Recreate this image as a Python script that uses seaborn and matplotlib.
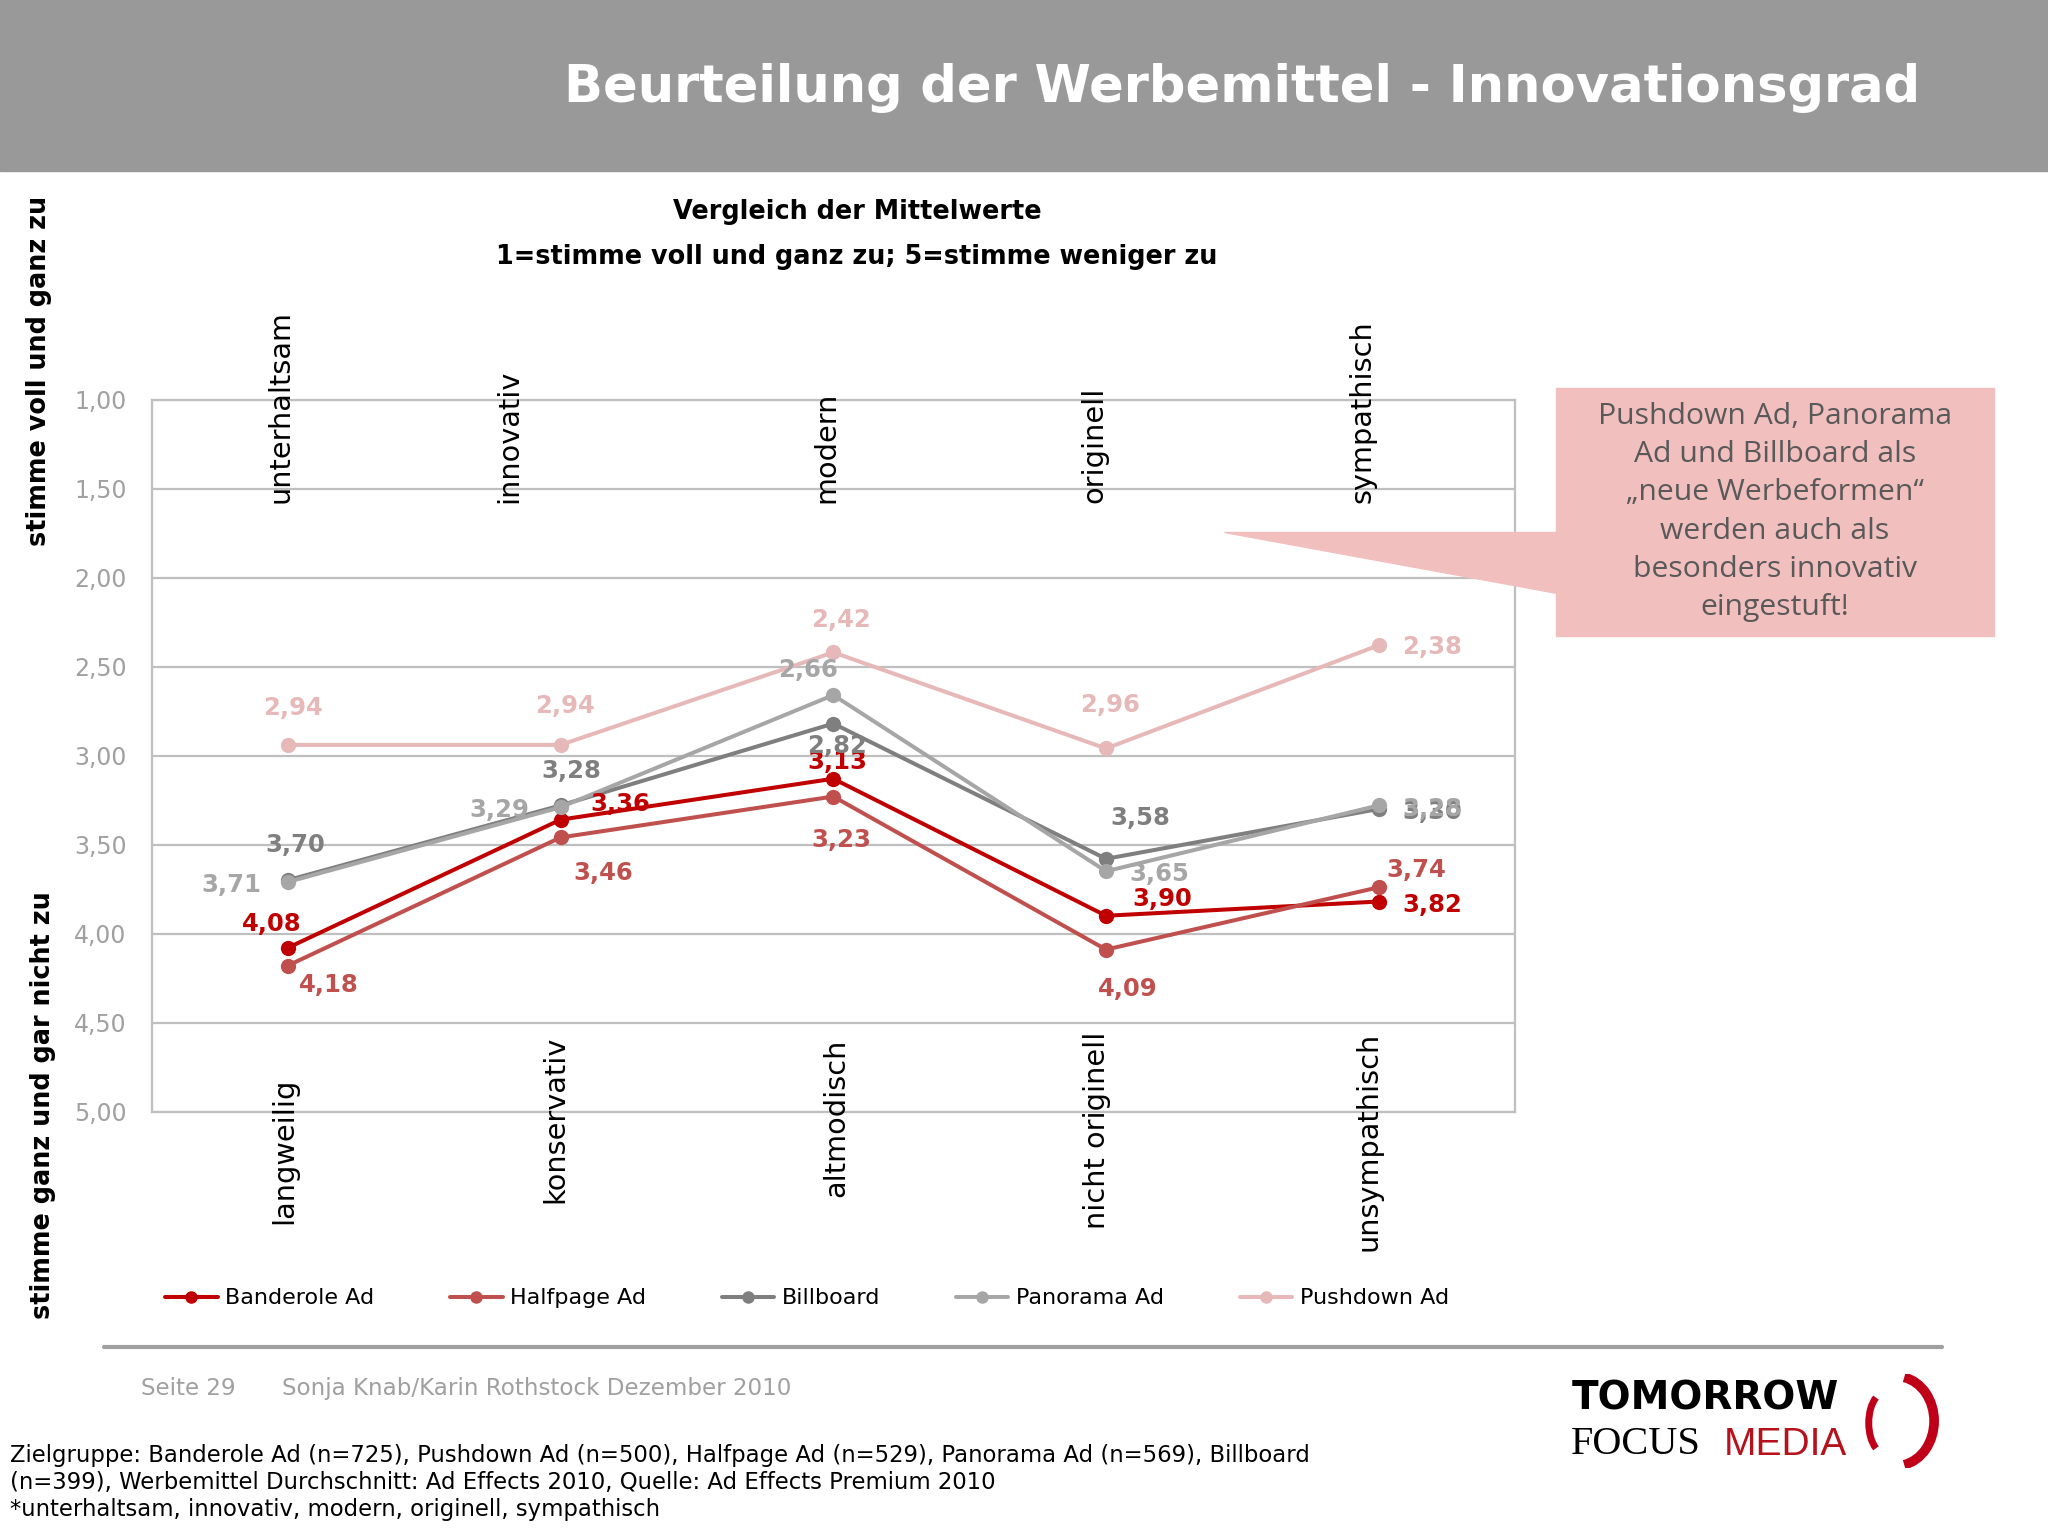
import matplotlib
matplotlib.use('Agg')
import matplotlib.pyplot as plt
import seaborn as sns
import pandas as pd
from matplotlib.patches import Rectangle, Polygon, Arc
from matplotlib.lines import Line2D
from matplotlib.ticker import FuncFormatter

#----------------- Daten ----------------------------------------
kategorien_oben = ['unterhaltsam', 'innovativ', 'modern', 'originell', 'sympathisch']
kategorien_unten = ['langweilig', 'konservativ', 'altmodisch', 'nicht originell', 'unsympathisch']
werbemittel = ['Banderole Ad', 'Halfpage Ad', 'Billboard', 'Panorama Ad', 'Pushdown Ad']
banderole = [4.08, 3.36, 3.13, 3.90, 3.82]
halfpage = [4.18, 3.46, 3.23, 4.09, 3.74]
billboard = [3.70, 3.28, 2.82, 3.58, 3.30]
panorama = [3.71, 3.29, 2.66, 3.65, 3.28]
pushdown = [2.94, 2.94, 2.42, 2.96, 2.38]
y_ticks = [1.0, 1.5, 2.0, 2.5, 3.0, 3.5, 4.0, 4.5, 5.0]

farben = ['#C00000', '#C0504D', '#7F7F7F', '#A6A6A6', '#E6B9B8']

werte = [banderole, halfpage, billboard, panorama, pushdown]
df = pd.DataFrame({
    'pos': [i for _ in werbemittel for i in range(len(kategorien_oben))],
    'wert': [v for serie in werte for v in serie],
    'Werbemittel': [w for w in werbemittel for _ in kategorien_oben],
})

# Versatz der Wertebeschriftungen (Punkte)
versatz = [
    [(-12, 18), (46, 12), (3, 13), (43, 13), (41, -3)],
    [(31, -15), (33, -27), (6, -33), (17, -30), (29, 13)],
    [(6, 27), (8, 26), (3, -17), (26, 31), (41, -2)],
    [(-43, -2), (-47, -2), (-19, 19), (41, -2), (41, -3)],
    [(4, 28), (3, 30), (6, 25), (3, 33), (41, -1)],
]

#----------------- Stil ----------------------------------------
sns.set_style('white')
plt.rcParams['font.family'] = ['DejaVu Sans']
plt.rcParams['text.color'] = 'black'

W, H = 1568, 1176
def fx(x):
    return x / W
def fy(y):
    return 1 - y / H

fig = plt.figure(figsize=(20.48, 15.36), dpi=100)

# Kopfzeile
fig.patches.append(Rectangle((0, fy(131)), 1, 131 / H, transform=fig.transFigure,
                             color='#999999', zorder=0))
fig.text(fx(1470), fy(67), 'Beurteilung der Werbemittel - Innovationsgrad', color='white',
         fontsize=36.8, fontweight='bold', ha='right', va='center')

# Untertitel
fig.text(fx(656), fy(162), 'Vergleich der Mittelwerte', fontsize=18.4, fontweight='bold',
         ha='center', va='center')
fig.text(fx(656), fy(197), '1=stimme voll und ganz zu; 5=stimme weniger zu', fontsize=18.4,
         fontweight='bold', ha='center', va='center')

# Achsenbeschriftungen links
fig.text(fx(30), fy(284), 'stimme voll und ganz zu', rotation=90, fontsize=18.4,
         fontweight='bold', ha='center', va='center')
fig.text(fx(33), fy(846), 'stimme ganz und gar nicht zu', rotation=90, fontsize=18.4,
         fontweight='bold', ha='center', va='center')

#----------------- Diagramm ----------------------------------------
ax = fig.add_axes([fx(116), fy(851), (1160 - 116) / W, (851 - 306) / H])
sns.lineplot(data=df, x='pos', y='wert', hue='Werbemittel', palette=farben,
             marker='o', markersize=11, markeredgewidth=0, linewidth=2.9,
             legend=False, ax=ax, zorder=3)

ax.set_xlim(-0.5, len(kategorien_oben) - 0.5)
ax.set_ylim(5, 1)
ax.set_yticks(y_ticks)
ax.yaxis.set_major_formatter(FuncFormatter(lambda v, p: f'{v:.2f}'.replace('.', ',')))
ax.tick_params(axis='y', labelsize=17, labelcolor='#A0A0A0', length=0, pad=18)
ax.set_xticks([])
ax.set_xlabel('')
ax.set_ylabel('')
ax.grid(axis='y', color='#BFBFBF', linewidth=1.6)
for sp in ax.spines.values():
    sp.set_color('#BFBFBF')
    sp.set_linewidth(1.6)

for serie, col, offs in zip(werte, farben, versatz):
    for i, v in enumerate(serie):
        ax.annotate(f'{v:.2f}'.replace('.', ','), (i, v),
                    xytext=(offs[i][0] * 0.94, offs[i][1] * 0.94), textcoords='offset points',
                    ha='center', va='center', color=col, fontsize=17.5, fontweight='bold',
                    zorder=5)

# Kategorien oben und unten
oben_x = [215, 390, 633, 838, 1043]
unten_x = [218, 425, 640, 840, 1048]
unten_y = [825, 793, 795, 790, 790]
for k, x in zip(kategorien_oben, oben_x):
    fig.text(fx(x), fy(385), k, rotation=90, fontsize=20.7, ha='center', va='bottom', zorder=6)
for k, x, y in zip(kategorien_unten, unten_x, unten_y):
    fig.text(fx(x), fy(y), k, rotation=90, fontsize=20.7, ha='center', va='top')

# Legende
handles = [Line2D([0], [0], color=c, marker='o', markersize=9, linewidth=2.9,
                  markeredgewidth=0) for c in farben]
fig.legend(handles, werbemittel, loc='center', bbox_to_anchor=(fx(618), fy(994)), ncol=5,
           frameon=False, fontsize=16, handlelength=2.36, handletextpad=0.35,
           columnspacing=3.4)

#----------------- Sprechblase ----------------------------------------
fig.patches.append(Polygon([(fx(937), fy(407)), (fx(1192), fy(407)), (fx(1192), fy(454))],
                           closed=True, transform=fig.transFigure, color='#F2BFBF', zorder=1))
fig.patches.append(Rectangle((fx(1191), fy(487)), (1527 - 1191) / W, (487 - 297) / H,
                             transform=fig.transFigure, color='#F2BFBF', zorder=1))
fig.text(fx(1359), fy(392), 'Pushdown Ad, Panorama\nAd und Billboard als\n„neue Werbeformen“\n'
         'werden auch als\nbesonders innovativ\neingestuft!', fontsize=21.7, color='#595959',
         family=['Open Sans', 'DejaVu Sans'], ha='center', va='center', linespacing=1.42)

#----------------- Fußzeile ----------------------------------------
fig.add_artist(Line2D([fx(80), fx(1487)], [fy(1031), fy(1031)], color='#A0A0A0', linewidth=3))
fig.text(fx(108), fy(1063), 'Seite 29', fontsize=16.6, color='#A0A0A0', va='center')
fig.text(fx(216), fy(1063), 'Sonja Knab/Karin Rothstock Dezember 2010', fontsize=16.6,
         color='#A0A0A0', va='center')
fig.text(fx(8), fy(1114), 'Zielgruppe: Banderole Ad (n=725), Pushdown Ad (n=500), Halfpage Ad (n=529), '
         'Panorama Ad (n=569), Billboard', fontsize=16.4, va='center')
fig.text(fx(8), fy(1135), '(n=399), Werbemittel Durchschnitt: Ad Effects 2010, Quelle: Ad Effects Premium 2010',
         fontsize=16.4, va='center')
fig.text(fx(8), fy(1156), '*unterhaltsam, innovativ, modern, originell, sympathisch', fontsize=16.4,
         va='center')

# Logo
fig.text(fx(1203), fy(1071), 'TOMORROW', fontsize=28, fontweight='bold', va='center')
fig.text(fx(1203), fy(1106), 'FOCUS', fontsize=29, va='center',
         family=['Liberation Serif', 'DejaVu Serif'])
fig.text(fx(1320), fy(1106), 'MEDIA', fontsize=28, va='center', color='#B5121B',
         family=['Liberation Sans', 'DejaVu Sans'])
lax = fig.add_axes([fx(1416), fy(1124), 72 / W, 72 / H])
lax.set_xlim(0, 1)
lax.set_ylim(0, 1)
lax.axis('off')
lax.add_patch(Arc((0.38, 0.48), 0.35, 0.65, theta1=110, theta2=250, color='#C00018', linewidth=5))
lax.add_patch(Arc((0.5, 0.5), 0.8, 0.95, theta1=-80, theta2=80, color='#C00018', linewidth=7))

fig.savefig('out.png', dpi=100)
